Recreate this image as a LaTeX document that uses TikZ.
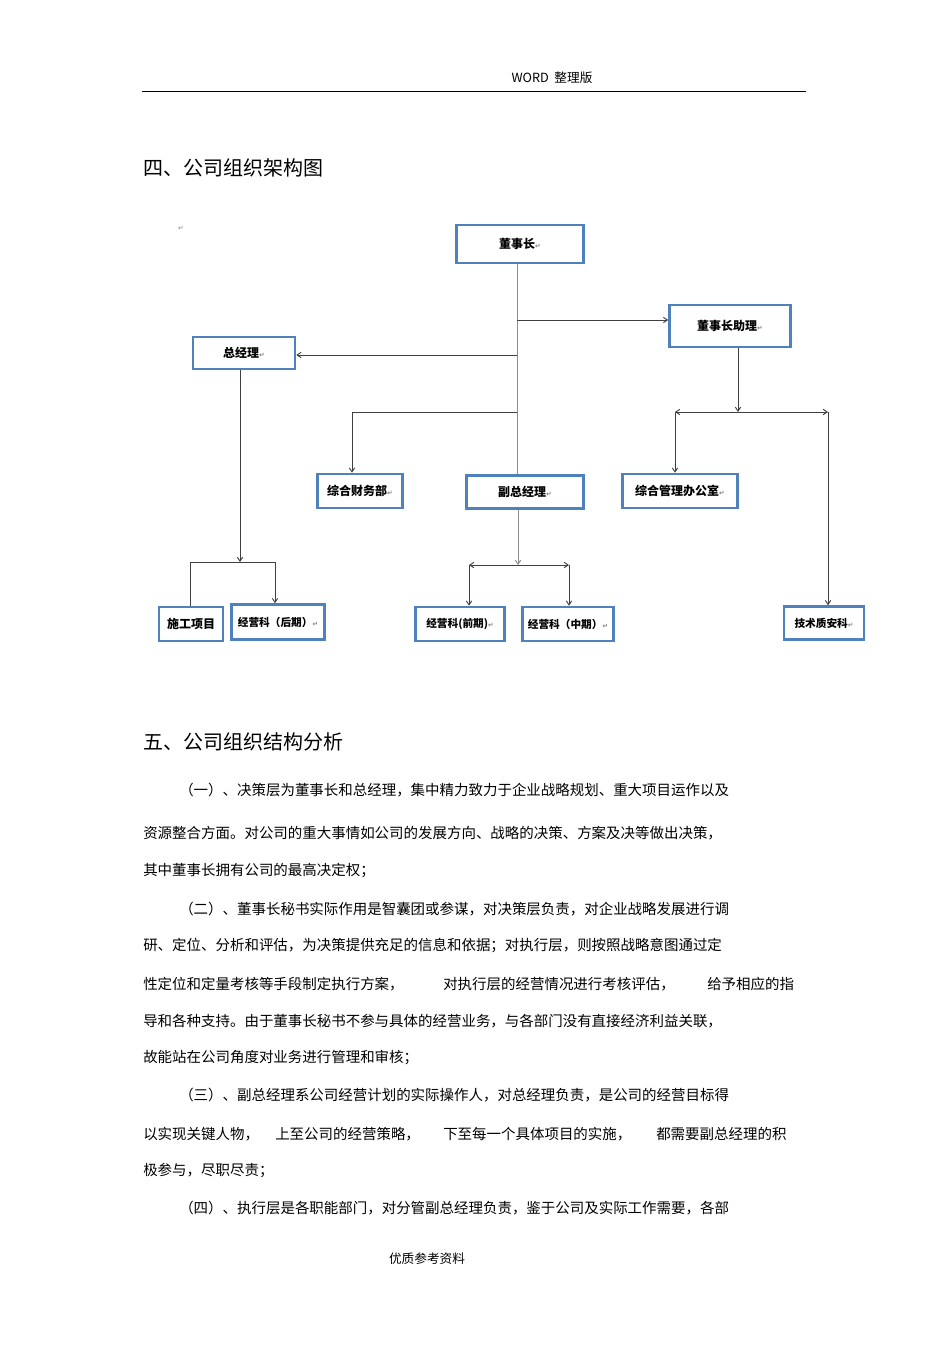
\documentclass[tikz,border=0pt]{standalone}
\usepackage{fontspec}
\newfontfamily\cjk{Noto Sans CJK SC}
\newfontfamily\dv{DejaVu Sans}
\usetikzlibrary{arrows.meta}
\definecolor{bx}{HTML}{4F81BD}
\tikzset{
 box/.style={draw=bx,line width=1.9pt,fill=white,inner sep=0pt,font=\cjk\bfseries\fontsize{9}{11}\selectfont},
 small/.style={font=\cjk\bfseries\fontsize{8}{10}\selectfont},
 ln/.style={draw=black!75,line width=0.7pt},
 ar/.style={ln,-{Straight Barb[length=3pt,width=4pt]}},
 body/.style={anchor=west,inner sep=0pt,font=\cjk\fontsize{10.85}{13}\selectfont},
 head/.style={anchor=west,inner sep=0pt,font=\cjk\fontsize{15}{18}\selectfont},
}
\newcommand{\parmark}{{\dv\fontsize{5}{6}\selectfont\color{black!50}↵}}
\begin{document}
\begin{tikzpicture}[x=0.75pt,y=-0.75pt]
\useasboundingbox (0,0) rectangle (950,1345);
\node[inner sep=0pt,font=\cjk\fontsize{9.5}{11}\selectfont] (hdr) at (552,78) {WORD\ \ 整理版};
\draw[line width=0.6pt] (142,91) -- (806,91);
\node[head] (h1) at (143,168) {四、公司组织架构图};
\node[inner sep=0pt] (pm0) at (181,228) {\parmark};
% boxes
\node[box,minimum width=95.25pt,minimum height=28.5pt] (dsz) at (520,244) {董事长\parmark};
\node[box,minimum width=90.75pt,minimum height=31.5pt] (zl) at (730,326) {董事长助理\parmark};
\node[box,minimum width=76.5pt,minimum height=24pt] (zjl) at (244,353) {总经理\parmark};
\node[box,minimum width=63.75pt,minimum height=25.5pt] (cw) at (360,491) {综合财务部\parmark};
\node[box,minimum width=87.75pt,minimum height=24.75pt] (fz) at (525,492) {副总经理\parmark};
\node[box,minimum width=86.25pt,minimum height=25.5pt] (bgs) at (680,491) {综合管理办公室\parmark};
\node[box,minimum width=48pt,minimum height=25.5pt] (sg) at (191,624) {施工项目};
\node[box,small,minimum width=69.75pt,minimum height=26.25pt] (hq) at (278,622) {经营科（后期）\parmark};
\node[box,small,minimum width=66.75pt,minimum height=25.5pt] (qq) at (460,624) {经营科(前期)\parmark};
\node[box,small,minimum width=68.25pt,minimum height=25.5pt] (zq) at (568,624) {经营科（中期）\parmark};
\node[box,small,minimum width=60pt,minimum height=24.75pt] (js) at (824,623) {技术质安科\parmark};
% connectors
\coordinate (t1) at (517,320); \coordinate (t2) at (517,355); \coordinate (t3) at (517,412);
\coordinate (c1) at (352,412);
\draw[ln,draw=black!45] (dsz.south -| t1) -- (fz.north -| t1);
\draw[ar] (t1) -- (zl.west |- t1);
\draw[ar] (t2) -- (zjl.east |- t2);
\draw[ln] (t3) -- (c1);
\draw[ar] (c1) -- (cw.north -| c1);
\coordinate (a1) at (738,412); \coordinate (a2) at (675,412); \coordinate (a3) at (828,412);
\draw[ar] (zl.south -| a1) -- (a1);
\draw[ln,{Straight Barb[length=3pt,width=4pt]}-{Straight Barb[length=3pt,width=4pt]}] (a2) -- (a3);
\draw[ar] (a2) -- (bgs.north -| a2);
\draw[ar] (a3) -- (js.north -| a3);
\coordinate (g1) at (240,562); \coordinate (g2) at (190,562); \coordinate (g3) at (275,562);
\draw[ar] (zjl.south -| g1) -- (g1);
\draw[ln] (g2) -- (g3);
\draw[ar] (g3) -- (hq.north -| g3);
\draw[ln] (g2) -- (sg.north -| g2);
\coordinate (f1) at (518,565); \coordinate (f2) at (469,565); \coordinate (f3) at (569,565);
\draw[ar,draw=black!45] (fz.south -| f1) -- (f1);
\draw[ln,{Straight Barb[length=3pt,width=4pt]}-{Straight Barb[length=3pt,width=4pt]}] (f2) -- (f3);
\draw[ar] (f2) -- (qq.north -| f2);
\draw[ar] (f3) -- (zq.north -| f3);
% text
\node[head] (h2) at (143,742) {五、公司组织结构分析};
\node[body] (l1) at (179,790) {（一）、决策层为董事长和总经理，集中精力致力于企业战略规划、重大项目运作以及};
\node[body] (l2) at (143,833) {资源整合方面。对公司的重大事情如公司的发展方向、战略的决策、方案及决等做出决策，};
\node[body] (l3) at (143,871) {其中董事长拥有公司的最高决定权；};
\node[body] (l4) at (179,909) {（二）、董事长秘书实际作用是智囊团或参谋，对决策层负责，对企业战略发展进行调};
\node[body] (l5) at (143,946) {研、定位、分析和评估，为决策提供充足的信息和依据；对执行层，则按照战略意图通过定};
\node[body] (l6a) at (143,984) {性定位和定量考核等手段制定执行方案，};
\node[body] (l6b) at (443,984) {对执行层的经营情况进行考核评估，};
\node[body] (l6c) at (707,984) {给予相应的指};
\node[body] (l7) at (143,1021) {导和各种支持。由于董事长秘书不参与具体的经营业务，与各部门没有直接经济利益关联，};
\node[body] (l8) at (143,1058) {故能站在公司角度对业务进行管理和审核；};
\node[body] (l9) at (179,1095) {（三）、副总经理系公司经营计划的实际操作人，对总经理负责，是公司的经营目标得};
\node[body] (l10a) at (143,1134) {以实现关键人物，};
\node[body] (l10b) at (275,1134) {上至公司的经营策略，};
\node[body] (l10c) at (443,1134) {下至每一个具体项目的实施，};
\node[body] (l10d) at (656,1134) {都需要副总经理的积};
\node[body] (l11) at (143,1171) {极参与，尽职尽责；};
\node[body] (l12) at (179,1208) {（四）、执行层是各职能部门，对分管副总经理负责，鉴于公司及实际工作需要，各部};
\node[inner sep=0pt,font=\cjk\fontsize{9.5}{11}\selectfont] (ftr) at (427,1259) {优质参考资料};
\end{tikzpicture}
\end{document}
